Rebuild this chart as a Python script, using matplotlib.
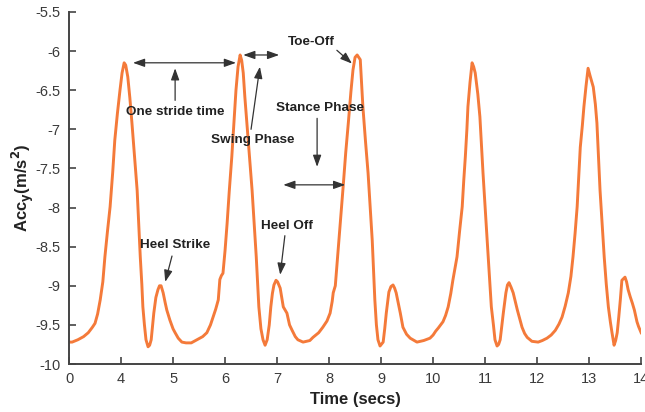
import matplotlib
matplotlib.use("Agg")
import matplotlib.pyplot as plt

plt.rcParams['font.family'] = ['Liberation Sans', 'DejaVu Sans']

# ---- data (time in secs, acceleration in m/s^2) ----
t = [3.00, 3.06, 3.17, 3.28, 3.37, 3.45, 3.50, 3.55, 3.60, 3.65, 3.69, 3.74, 3.79, 3.84, 3.88, 3.93,
     3.98, 4.02, 4.06, 4.09, 4.13, 4.17, 4.21, 4.26, 4.31, 4.34, 4.37, 4.40, 4.42, 4.45, 4.48, 4.52,
     4.55, 4.58, 4.63, 4.67, 4.71, 4.74, 4.77, 4.81, 4.85, 4.88, 4.94, 5.00, 5.04, 5.10, 5.17, 5.25,
     5.35, 5.46, 5.57, 5.65, 5.72, 5.77, 5.82, 5.87, 5.90, 5.93, 5.96, 6.00, 6.04, 6.08, 6.13, 6.17,
     6.21, 6.25, 6.29, 6.32, 6.35, 6.38, 6.42, 6.47, 6.52, 6.56, 6.60, 6.65, 6.69, 6.73, 6.77, 6.81,
     6.85, 6.88, 6.91, 6.94, 6.98, 7.01, 7.06, 7.12, 7.19, 7.24, 7.29, 7.35, 7.40, 7.50, 7.63,
     7.69, 7.80, 7.88, 7.96, 8.02, 8.06, 8.08, 8.12, 8.15, 8.19, 8.23, 8.27, 8.32, 8.37, 8.42, 8.46,
     8.50, 8.54, 8.60, 8.62, 8.65, 8.70, 8.75, 8.79, 8.83, 8.88, 8.91, 8.94, 8.98, 9.04, 9.07, 9.10,
     9.15, 9.19, 9.23, 9.26, 9.29, 9.33, 9.37, 9.42, 9.49, 9.56, 9.69, 9.82, 9.94,
     10.00, 10.05, 10.10, 10.19, 10.24, 10.29, 10.34, 10.38, 10.42, 10.46, 10.51, 10.56, 10.59,
     10.62, 10.65, 10.67, 10.71, 10.75, 10.78, 10.81, 10.86, 10.90, 10.93, 10.96, 11.00, 11.04,
     11.08, 11.12, 11.16, 11.19, 11.23, 11.26, 11.29, 11.32, 11.35, 11.40, 11.43, 11.46, 11.50,
     11.54, 11.58, 11.62, 11.67, 11.71, 11.76, 11.81, 11.90, 12.02,
     12.10, 12.19, 12.27, 12.35, 12.42, 12.48, 12.54, 12.60, 12.65, 12.69, 12.73, 12.77, 12.80,
     12.83, 12.87, 12.90, 12.94, 12.98, 13.02, 13.08, 13.12, 13.15, 13.18, 13.21, 13.25, 13.29,
     13.33, 13.37, 13.41, 13.44, 13.48, 13.51, 13.54, 13.57, 13.60, 13.63, 13.69, 13.72, 13.75,
     13.79, 13.83, 13.87, 13.90, 13.92, 13.95, 14.00]
acc = [-9.72, -9.72, -9.69, -9.65, -9.60, -9.53, -9.48, -9.36, -9.18, -8.95, -8.63, -8.30, -7.99, -7.55, -7.14, -6.80,
       -6.50, -6.28, -6.15, -6.18, -6.33, -6.60, -6.92, -7.35, -7.78, -8.20, -8.63, -8.98, -9.27, -9.50, -9.69, -9.78,
       -9.76, -9.69, -9.35, -9.15, -9.05, -9.00, -9.00, -9.09, -9.22, -9.31, -9.44, -9.55, -9.60, -9.67, -9.72, -9.73,
       -9.73, -9.69, -9.65, -9.60, -9.50, -9.40, -9.30, -9.18, -8.92, -8.87, -8.84, -8.55, -8.20, -7.80, -7.35, -6.92,
       -6.50, -6.20, -6.05, -6.12, -6.28, -6.58, -6.92, -7.35, -7.78, -8.20, -8.63, -9.27, -9.55, -9.69, -9.76, -9.69,
       -9.50, -9.27, -9.10, -8.99, -8.93, -8.95, -9.03, -9.27, -9.35, -9.50, -9.57, -9.65, -9.69, -9.72, -9.70,
       -9.66, -9.60, -9.53, -9.45, -9.35, -9.20, -9.09, -9.00, -8.75, -8.42, -8.08, -7.74, -7.30, -6.92, -6.52, -6.24,
       -6.08, -6.05, -6.11, -6.35, -6.71, -7.15, -7.56, -8.00, -8.42, -9.18, -9.50, -9.69, -9.77, -9.72, -9.55, -9.35,
       -9.08, -9.01, -8.99, -9.03, -9.09, -9.22, -9.35, -9.53, -9.62, -9.67, -9.72, -9.70, -9.67,
       -9.63, -9.58, -9.54, -9.46, -9.38, -9.27, -9.10, -8.93, -8.78, -8.63, -8.30, -7.99, -7.65,
       -7.35, -7.00, -6.71, -6.40, -6.15, -6.20, -6.28, -6.55, -6.84, -7.20, -7.56, -8.00, -8.42,
       -8.85, -9.27, -9.50, -9.69, -9.77, -9.75, -9.69, -9.52, -9.35, -9.09, -8.99, -8.96, -9.02,
       -9.09, -9.20, -9.31, -9.43, -9.53, -9.61, -9.66, -9.71, -9.72,
       -9.70, -9.67, -9.63, -9.57, -9.49, -9.40, -9.26, -9.09, -8.88, -8.63, -8.33, -7.99, -7.60,
       -7.23, -6.95, -6.71, -6.45, -6.22, -6.32, -6.46, -6.68, -6.92, -7.35, -7.78, -8.20, -8.63,
       -8.98, -9.27, -9.47, -9.60, -9.76, -9.70, -9.60, -9.40, -9.18, -8.93, -8.89, -8.95, -9.05,
       -9.14, -9.22, -9.31, -9.40, -9.46, -9.52, -9.60]

xticks = [3, 4, 5, 6, 7, 8, 9, 10, 11, 12, 13, 14]
xticklabels = ['0', '4', '5', '6', '7', '8', '9', '10', '11', '12', '13', '14']
yticks = [-10, -9.5, -9, -8.5, -8, -7.5, -7, -6.5, -6, -5.5]
yticklabels = ['-10', '-9.5', '-9', '-8.5', '-8', '-7.5', '-7', '-6.5', '-6', '-5.5']

fig = plt.figure(figsize=(6.45, 4.12), dpi=100)
ax = fig.add_axes([0.107, 0.1165, 0.887, 0.8545])
ax.plot(t, acc, color='#F47A3A', lw=2.1, solid_joinstyle='round')

ax.set_xlim(3, 14)
ax.set_ylim(-10, -5.5)
ax.set_xticks(xticks)
ax.set_xticklabels(xticklabels)
ax.set_yticks(yticks)
ax.set_yticklabels(yticklabels)
for s in ['top', 'right']:
    ax.spines[s].set_visible(False)
for s in ['left', 'bottom']:
    ax.spines[s].set_color('#444444')
    ax.spines[s].set_linewidth(1.4)
ax.tick_params(direction='in', length=5, width=1.2, color='#444444',
               labelsize=10.5, labelcolor='#3a3a3a')
ax.tick_params(axis='x', pad=6)
ax.tick_params(axis='y', pad=6)
ax.set_xlabel('Time (secs)', fontsize=12, fontweight='bold', labelpad=4, color='#222222')
ax.set_ylabel(r'Acc$_\mathbf{y}$(m/s$^\mathbf{2}$)', fontsize=12, fontweight='bold',
              labelpad=0, color='#222222')

txt = dict(fontsize=9.7, fontweight='bold', color='#222222', ha='center', va='center')
dbl = dict(arrowstyle='<|-|>,head_length=0.7,head_width=0.25', color='#333333', lw=0.9,
           shrinkA=0, shrinkB=0)
one = dict(arrowstyle='-|>,head_length=0.7,head_width=0.25', color='#333333', lw=0.9,
           shrinkA=0, shrinkB=0)

# One stride time
ax.annotate('', xy=(6.21, -6.15), xytext=(4.23, -6.15), arrowprops=dbl)
ax.annotate('', xy=(5.04, -6.22), xytext=(5.04, -6.63), arrowprops=one)
ax.text(5.04, -6.78, 'One stride time', **txt)
# Swing Phase
ax.annotate('', xy=(7.04, -6.05), xytext=(6.35, -6.05), arrowprops=dbl)
ax.annotate('', xy=(6.67, -6.20), xytext=(6.50, -7.00), arrowprops=one)
ax.text(6.54, -7.14, 'Swing Phase', **txt)
# Toe-Off
ax.text(7.65, -5.88, 'Toe-Off', **txt)
ax.annotate('', xy=(8.44, -6.16), xytext=(8.15, -5.99), arrowprops=one)
# Stance Phase
ax.text(7.83, -6.73, 'Stance Phase', **txt)
ax.annotate('', xy=(7.77, -7.48), xytext=(7.77, -6.86), arrowprops=one)
ax.annotate('', xy=(8.31, -7.71), xytext=(7.12, -7.71), arrowprops=dbl)
# Heel Strike
ax.text(5.04, -8.48, 'Heel Strike', **txt)
ax.annotate('', xy=(4.85, -8.95), xytext=(4.98, -8.62), arrowprops=one)
# Heel Off
ax.text(7.19, -8.24, 'Heel Off', **txt)
ax.annotate('', xy=(7.06, -8.86), xytext=(7.15, -8.36), arrowprops=one)

fig.savefig('out.png', dpi=100)
